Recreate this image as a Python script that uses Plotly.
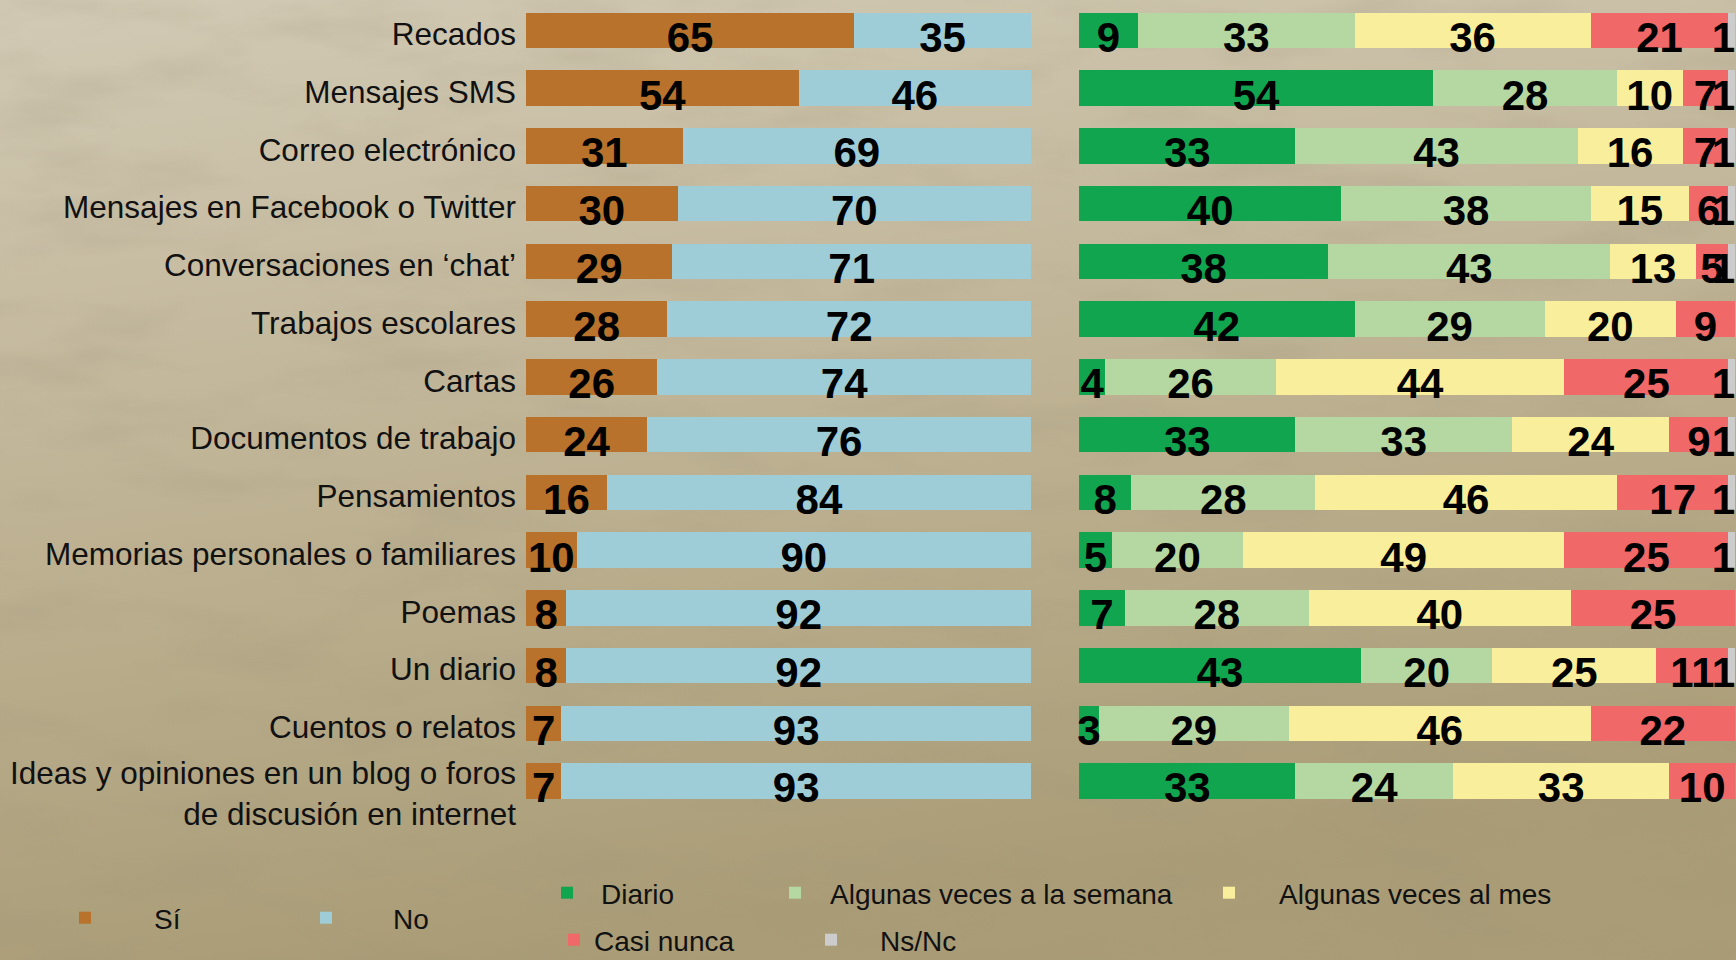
import base64
import plotly.graph_objects as go

# ---------------- data ----------------
categories = [
    "Recados", "Mensajes SMS", "Correo electrónico", "Mensajes en Facebook o Twitter",
    "Conversaciones en ‘chat’", "Trabajos escolares", "Cartas", "Documentos de trabajo",
    "Pensamientos", "Memorias personales o familiares", "Poemas", "Un diario",
    "Cuentos o relatos", "Ideas y opiniones en un blog o foros<br>de discusión en internet",
]
si = [65, 54, 31, 30, 29, 28, 26, 24, 16, 10, 8, 8, 7, 7]
no = [35, 46, 69, 70, 71, 72, 74, 76, 84, 90, 92, 92, 93, 93]
diario = [9, 54, 33, 40, 38, 42, 4, 33, 8, 5, 7, 43, 3, 33]
semana = [33, 28, 43, 38, 43, 29, 26, 33, 28, 20, 28, 20, 29, 24]
mes = [36, 10, 16, 15, 13, 20, 44, 24, 46, 49, 40, 25, 46, 33]
casi = [21, 7, 7, 6, 5, 9, 25, 9, 17, 25, 25, 11, 22, 10]
nsnc = [1, 1, 1, 1, 1, 0, 1, 1, 1, 1, 0, 1, 0, 0]

left_series = [("Sí", si, "#B8722C"), ("No", no, "#9FCDD7")]
right_series = [
    ("Diario", diario, "#12A54F"),
    ("Algunas veces a la semana", semana, "#B5D7A1"),
    ("Algunas veces al mes", mes, "#F9EE9C"),
    ("Casi nunca", casi, "#F06868"),
    ("Ns/Nc", nsnc, "#CCCCCC"),
]

W, H = 1736, 960
idx = list(range(len(categories)))

# legend placement (px): (legend id, left px, center y px, itemwidth)
legend_pos = {
    "Sí": ("legend", 16, 918, 128),
    "No": ("legend2", 259, 918, 124),
    "Diario": ("legend3", 533, 893, 58),
    "Algunas veces a la semana": ("legend4", 760, 893, 60),
    "Algunas veces al mes": ("legend5", 1179, 893, 90),
    "Casi nunca": ("legend6", 554, 940, 30),
    "Ns/Nc": ("legend7", 782, 940, 88),
}

fig = go.Figure()
label_font = dict(family="Liberation Sans, Arial, sans-serif", size=42, color="black", weight="bold")
TEXT_DY = 0.19
TICK_DY = 0.065
LINE_DY = 0.15


def add_stack(series, xaxis):
    base = [0] * len(idx)
    for k, (name, vals, color) in enumerate(series):
        fig.add_trace(go.Bar(
            y=idx, x=vals, base=base, orientation="h", name=name,
            marker=dict(color=color, line=dict(width=0)),
            xaxis=xaxis, yaxis="y", legend=legend_pos[name][0],
            hoverinfo="name+x",
        ))
        last = (k == len(series) - 1) and xaxis == "x2"
        xs, ys, ts = [], [], []
        for i, v in enumerate(vals):
            if v > 0:
                # last (tiny) segment: label ends at the bar's end
                xs.append(base[i] + v if last else base[i] + v / 2)
                ys.append(i + TEXT_DY)
                ts.append(str(v))
        fig.add_trace(go.Scatter(
            x=xs, y=ys, text=ts, mode="text",
            textposition="middle left" if last else "middle center",
            textfont=label_font, showlegend=False, hoverinfo="skip",
            cliponaxis=False, xaxis=xaxis, yaxis="y",
        ))
        base = [b + v for b, v in zip(base, vals)]


add_stack(left_series, "x")
add_stack(right_series, "x2")

# background (gradient with slight mottled texture)
svg = f"""<svg xmlns='http://www.w3.org/2000/svg' width='{W}' height='{H}' viewBox='0 0 {W} {H}' preserveAspectRatio='none'>
<defs>
<linearGradient id='g' x1='0' y1='0' x2='0.25' y2='1'>
<stop offset='0' stop-color='#D2CAB5'/><stop offset='0.55' stop-color='#BDB192'/><stop offset='1' stop-color='#A99C76'/>
</linearGradient>
<filter id='n' x='0' y='0' width='100%' height='100%'>
<feTurbulence type='fractalNoise' baseFrequency='0.006 0.02' numOctaves='4' seed='7'/>
<feColorMatrix type='matrix' values='0 0 0 0 0.35  0 0 0 0 0.30  0 0 0 0 0.20  1.6 0 0 0 -0.75'/>
</filter>
</defs>
<rect width='{W}' height='{H}' fill='url(#g)'/>
<rect width='{W}' height='{H}' filter='url(#n)' opacity='0.35'/>
</svg>"""
bg_src = "data:image/svg+xml;base64," + base64.b64encode(svg.encode("utf-8")).decode("ascii")

# y layout: row centers at 30.5px (first) and 781px (last)
top_px, pitch = 30.5, (781 - 30.5) / 13
y_top = top_px - pitch / 2
y_bot = top_px + pitch * 13 + pitch / 2
ydomain = [(H - y_bot) / H, (H - y_top) / H]

# multi-line category labels start near the bar's centre line
tick_pos = [i + TICK_DY + LINE_DY * c.count("<br>") for i, c in zip(idx, categories)]

layout = dict(
    width=W, height=H,
    margin=dict(l=0, r=0, t=0, b=0, pad=0, autoexpand=False),
    paper_bgcolor="#BDB191", plot_bgcolor="rgba(0,0,0,0)",
    barmode="stack", bargap=0.385,
    font=dict(family="Liberation Sans, Arial, sans-serif", color="#111111"),
    xaxis=dict(domain=[526 / W, 1031 / W], range=[0, 100], visible=False, anchor="y", fixedrange=True),
    xaxis2=dict(domain=[1079 / W, 1735 / W], range=[0, 100], visible=False, anchor="y", fixedrange=True),
    yaxis=dict(
        domain=ydomain, range=[13.5, -0.5], anchor="x",
        tickvals=tick_pos, ticktext=categories, ticks="", ticklabelstandoff=9,
        showgrid=False, zeroline=False, showline=False,
        tickfont=dict(size=31.5, color="#111111", family="Liberation Sans, Arial, sans-serif"),
        fixedrange=True,
    ),
    images=[dict(source=bg_src, xref="paper", yref="paper", x=0, y=1, sizex=1, sizey=1,
                 xanchor="left", yanchor="top", sizing="stretch", layer="below")],
    showlegend=True,
)
for name, (lid, lx, ly, iw) in legend_pos.items():
    layout[lid] = dict(
        x=lx / W, y=1 - ly / H, xanchor="left", yanchor="middle", xref="paper", yref="paper",
        orientation="h", bgcolor="rgba(0,0,0,0)", borderwidth=0, itemwidth=iw,
        font=dict(size=28, color="#111111", family="Liberation Sans, Arial, sans-serif"),
        itemclick=False, itemdoubleclick=False,
    )
fig.update_layout(**layout)

fig.write_html(
    "out.html",
    config={"displayModeBar": False},
    post_script="document.documentElement.style.margin='0';document.body.style.margin='0';"
                "document.body.style.overflow='hidden';",
)
